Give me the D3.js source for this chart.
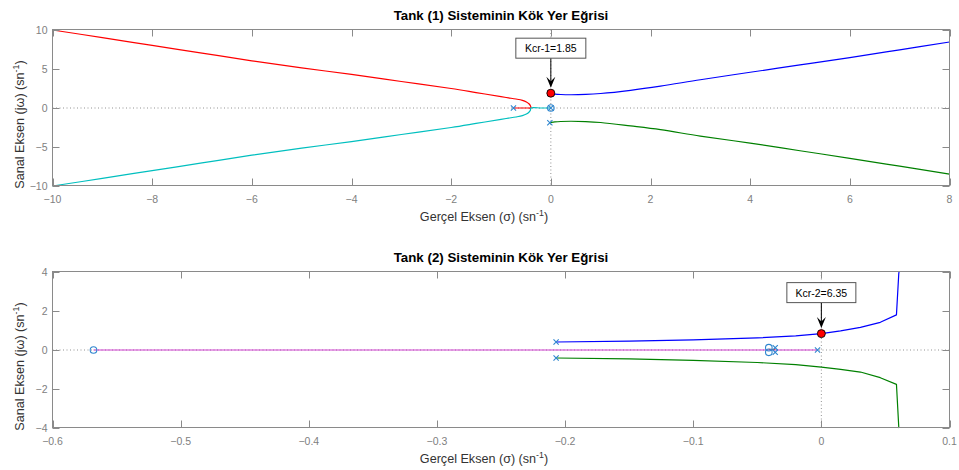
<!DOCTYPE html>
<html>
<head>
<meta charset="utf-8">
<script src="https://cdn.jsdelivr.net/npm/d3@7"></script>
<style>
  html, body { margin: 0; padding: 0; background: #fff; }
  svg { display: block; font-family: "Liberation Sans", Arial, Helvetica, sans-serif; }
</style>
</head>
<body>
<svg id="chart" width="959" height="470"></svg>
<script>
// ---------- Tank (1) root locus ----------
const t1Title = "Tank (1) Sisteminin Kök Yer Eğrisi";
const t1XTicks = [-10, -8, -6, -4, -2, 0, 2, 4, 6, 8];
const t1YTicks = [-10, -5, 0, 5, 10];
const t1XDomain = [-10, 8];
const t1YDomain = [-10, 10];

// branch from pole -0.75 along real axis, breaking away upward to the left
const t1RedRe = [-0.75, -0.6, -0.45, -0.40, -0.41, -0.44, -0.49, -0.57, -0.7, -0.85, -1.0, -1.5, -2.0, -3.0, -4.0, -5.0, -6.0, -7.0, -8.0, -9.0, -10.0];
const t1RedIm = [0, 0, 0, 0, 0.3, 0.55, 0.78, 0.98, 1.15, 1.3, 1.45, 1.98, 2.5, 3.4, 4.3, 5.15, 6.05, 7.04, 8.03, 9.02, 10.0];
// branch from pole at the origin, breaking away downward to the left
const t1CyanRe = [0, -0.2, -0.40, -0.41, -0.44, -0.49, -0.57, -0.7, -0.85, -1.0, -1.5, -2.0, -3.0, -4.0, -5.0, -6.0, -7.0, -8.0, -9.0, -10.0];
const t1CyanIm = [0, 0, 0, -0.3, -0.55, -0.78, -0.98, -1.15, -1.3, -1.45, -1.98, -2.5, -3.4, -4.3, -5.15, -6.05, -7.04, -8.03, -9.02, -10.0];
// complex pole pair branches heading to the right half plane
const t1BlueRe = [-0.02, 0, 0.08, 0.2, 0.4, 0.7, 1.0, 1.6, 2.2, 3.0, 4.0, 5.0, 6.0, 7.0, 8.0];
const t1BlueIm = [1.88, 1.86, 1.79, 1.73, 1.7, 1.74, 1.86, 2.27, 2.8, 3.62, 4.58, 5.52, 6.47, 7.46, 8.46];
const t1GreenRe = [-0.02, 0, 0.08, 0.2, 0.4, 0.7, 1.0, 1.6, 2.2, 3.0, 4.0, 5.0, 6.0, 7.0, 8.0];
const t1GreenIm = [-1.88, -1.86, -1.79, -1.73, -1.7, -1.74, -1.86, -2.3, -2.78, -3.6, -4.5, -5.48, -6.45, -7.46, -8.48];

const t1PoleRe = [-0.75, 0, -0.02, -0.02];
const t1PoleIm = [0, 0, 1.88, -1.88];
const t1ZeroRe = [0];
const t1ZeroIm = [0];

const t1KcrLabel = "Kcr-1=1.85";
const t1KcrRe = 0;
const t1KcrIm = 1.9;

// ---------- Tank (2) root locus ----------
const t2Title = "Tank (2) Sisteminin Kök Yer Eğrisi";
const t2XTicks = [-0.6, -0.5, -0.4, -0.3, -0.2, -0.1, 0, 0.1];
const t2YTicks = [-4, -2, 0, 2, 4];
const t2XDomain = [-0.6, 0.1];
const t2YDomain = [-4, 4];

const t2MagentaRe = [-0.003, -0.568];
const t2MagentaIm = [0, 0];
const t2BlueRe = [-0.207, -0.15, -0.1, -0.05, -0.02, 0, 0.015, 0.0305, 0.046, 0.0586, 0.0604, 0.0606];
const t2BlueIm = [0.41, 0.46, 0.52, 0.62, 0.72, 0.84, 0.98, 1.16, 1.42, 1.80, 3.9, 4.0];
const t2GreenRe = [-0.207, -0.15, -0.1, -0.05, -0.02, 0, 0.015, 0.0305, 0.046, 0.0586, 0.0604, 0.0606];
const t2GreenIm = [-0.41, -0.46, -0.53, -0.64, -0.75, -0.88, -0.99, -1.13, -1.42, -1.76, -3.94, -4.0];
const t2RedRe = [-0.036, -0.041];
const t2RedIm = [0.03, 0.03];

const t2PoleRe = [-0.207, -0.207, -0.036, -0.036, -0.003];
const t2PoleIm = [0.41, -0.41, 0.12, -0.12, 0];
const t2ZeroRe = [-0.568, -0.041, -0.041];
const t2ZeroIm = [0, 0.12, -0.12];

const t2KcrLabel = "Kcr-2=6.35";
const t2KcrRe = 0;
const t2KcrIm = 0.84;

const xLabelMain = "Gerçel Eksen (σ) (sn";
const yLabelMain = "Sanal Eksen (jω) (sn";
const supText = "-1";

const zip = (re, im) => re.map((r, i) => [r, im[i]]);

const panels = [
  {
    top: 29.5, bottom: 185.5, title: t1Title, xDomain: t1XDomain, yDomain: t1YDomain,
    xTicks: t1XTicks, yTicks: t1YTicks, smooth: true,
    branches: [
      { pts: zip(t1RedRe, t1RedIm), color: "#ff0000" },
      { pts: zip(t1CyanRe, t1CyanIm), color: "#00bfbf" },
      { pts: zip(t1BlueRe, t1BlueIm), color: "#0000ff" },
      { pts: zip(t1GreenRe, t1GreenIm), color: "#008000" }
    ],
    poles: zip(t1PoleRe, t1PoleIm), zeros: zip(t1ZeroRe, t1ZeroIm),
    kcr: { label: t1KcrLabel, re: t1KcrRe, im: t1KcrIm, boxW: 70, boxH: 20, gap: 35 },
    xFmt: d3.format("d"), yFmt: d3.format("d")
  },
  {
    top: 271.5, bottom: 427.5, title: t2Title, xDomain: t2XDomain, yDomain: t2YDomain,
    xTicks: t2XTicks, yTicks: t2YTicks, smooth: false,
    branches: [
      { pts: zip(t2MagentaRe, t2MagentaIm), color: "#d040d0" },
      { pts: zip(t2RedRe, t2RedIm), color: "#ff3030" },
      { pts: zip(t2BlueRe, t2BlueIm), color: "#0000ff" },
      { pts: zip(t2GreenRe, t2GreenIm), color: "#008000" }
    ],
    poles: zip(t2PoleRe, t2PoleIm), zeros: zip(t2ZeroRe, t2ZeroIm),
    kcr: { label: t2KcrLabel, re: t2KcrRe, im: t2KcrIm, boxW: 69, boxH: 20, gap: 31 },
    xFmt: v => (v === 0 ? "0" : d3.format(".1f")(v)), yFmt: d3.format("d")
  }
];

const svg = d3.select("#chart");
const left = 52.5, right = 949.5;
const tickLen = 7;
const axisGray = "#8a8a8a";
const markerBlue = "#2f86cf";
const labelShift = 17; // label centre offset along its own direction

panels.forEach((p, idx) => {
  const x = d3.scaleLinear().domain(p.xDomain).range([left, right]);
  // data area sits half a pixel below the box lines
  const y = d3.scaleLinear().domain(p.yDomain).range([p.bottom + 0.5, p.top + 0.5]);
  const g = svg.append("g");

  // dotted real and imaginary axes
  g.append("line")
    .attr("x1", left).attr("x2", right).attr("y1", y(0)).attr("y2", y(0))
    .attr("stroke", "#777").attr("stroke-width", 0.8).attr("stroke-dasharray", "1,2.5");
  g.append("line")
    .attr("x1", x(0)).attr("x2", x(0)).attr("y1", p.top).attr("y2", p.bottom)
    .attr("stroke", "#777").attr("stroke-width", 0.8).attr("stroke-dasharray", "1,2.5");

  // locus branches
  const line = d3.line().x(d => x(d[0])).y(d => y(d[1]))
    .curve(p.smooth ? d3.curveCatmullRom.alpha(0.5) : d3.curveLinear);
  const plot = g.append("g");
  p.branches.forEach(b => {
    plot.append("path")
      .attr("d", line(b.pts))
      .attr("fill", "none").attr("stroke", b.color).attr("stroke-width", 1.2)
      .attr("stroke-linejoin", "round");
  });

  // zeros (o) and poles (x)
  plot.selectAll(".zero").data(p.zeros).join("circle")
    .attr("class", "zero")
    .attr("cx", d => x(d[0])).attr("cy", d => y(d[1])).attr("r", 3.3)
    .attr("fill", "none").attr("stroke", markerBlue).attr("stroke-width", 1.1);
  plot.selectAll(".pole").data(p.poles).join("path")
    .attr("class", "pole")
    .attr("d", d => {
      const cx = x(d[0]), cy = y(d[1]), s = 2.6;
      return `M${cx - s},${cy - s}L${cx + s},${cy + s}M${cx - s},${cy + s}L${cx + s},${cy - s}`;
    })
    .attr("stroke", markerBlue).attr("stroke-width", 1.1);

  // axis box and inward ticks
  g.append("rect").attr("x", left).attr("y", p.top)
    .attr("width", right - left).attr("height", p.bottom - p.top)
    .attr("fill", "none").attr("stroke", axisGray).attr("stroke-width", 1);

  p.xTicks.forEach(t => {
    const tx = Math.round(x(t)) + 0.5;
    g.append("line").attr("x1", tx).attr("x2", tx).attr("y1", p.bottom).attr("y2", p.bottom - tickLen)
      .attr("stroke", axisGray);
    g.append("line").attr("x1", tx).attr("x2", tx).attr("y1", p.top).attr("y2", p.top + tickLen)
      .attr("stroke", axisGray);
    g.append("text").attr("x", x(t)).attr("y", p.bottom + 17)
      .attr("text-anchor", "middle").attr("font-size", 10.5).attr("fill", "#808080")
      .text(p.xFmt(t));
  });
  p.yTicks.forEach(t => {
    const ty = Math.round(y(t) - 0.5) + 0.5;
    g.append("line").attr("x1", left).attr("x2", left + tickLen).attr("y1", ty).attr("y2", ty)
      .attr("stroke", axisGray);
    g.append("line").attr("x1", right).attr("x2", right - tickLen).attr("y1", ty).attr("y2", ty)
      .attr("stroke", axisGray);
    g.append("text").attr("x", left - 5).attr("y", y(t) + 3.5)
      .attr("text-anchor", "end").attr("font-size", 10.5).attr("fill", "#808080")
      .text(p.yFmt(t));
  });

  // title
  g.append("text").attr("x", (left + right) / 2).attr("y", p.top - 10)
    .attr("text-anchor", "middle").attr("font-size", 13.3).attr("font-weight", "bold")
    .attr("fill", "#000").text(p.title);

  // x label
  const xl = g.append("text").attr("x", (left + right) / 2 - labelShift).attr("y", p.bottom + 35)
    .attr("text-anchor", "middle").attr("font-size", 12.6).attr("fill", "#333");
  xl.append("tspan").text(xLabelMain);
  xl.append("tspan").attr("dy", -5).attr("font-size", 8.8).text(supText);
  xl.append("tspan").attr("dy", 5).text(")");

  // y label
  const cy = (p.top + p.bottom) / 2 + labelShift;
  const yl = g.append("text").attr("transform", `translate(24,${cy}) rotate(-90)`)
    .attr("text-anchor", "middle").attr("font-size", 12.6).attr("fill", "#333");
  yl.append("tspan").text(yLabelMain);
  yl.append("tspan").attr("dy", -5).attr("font-size", 8.8).text(supText);
  yl.append("tspan").attr("dy", 5).text(")");

  // critical gain annotation
  const k = p.kcr;
  const px = x(k.re), py = y(k.im);
  const boxBottom = py - k.gap;
  const tip = py - 5.5;
  g.append("line").attr("x1", px).attr("x2", px).attr("y1", boxBottom).attr("y2", tip - 6)
    .attr("stroke", "#000").attr("stroke-width", 1);
  g.append("path")
    .attr("d", `M${px - 4.5},${tip - 11}L${px},${tip - 6.5}L${px + 4.5},${tip - 11}L${px},${tip}Z`)
    .attr("fill", "#000");
  g.append("rect").attr("x", px - k.boxW / 2).attr("y", boxBottom - k.boxH)
    .attr("width", k.boxW).attr("height", k.boxH)
    .attr("fill", "#fff").attr("stroke", "#555").attr("stroke-width", 1);
  g.append("text").attr("x", px).attr("y", boxBottom - k.boxH / 2 + 4)
    .attr("text-anchor", "middle").attr("font-size", 10.5).attr("fill", "#000")
    .text(k.label);
  g.append("circle").attr("cx", px).attr("cy", py).attr("r", 4)
    .attr("fill", "#ff0000").attr("stroke", "#000").attr("stroke-width", 0.9);
});
</script>
</body>
</html>
